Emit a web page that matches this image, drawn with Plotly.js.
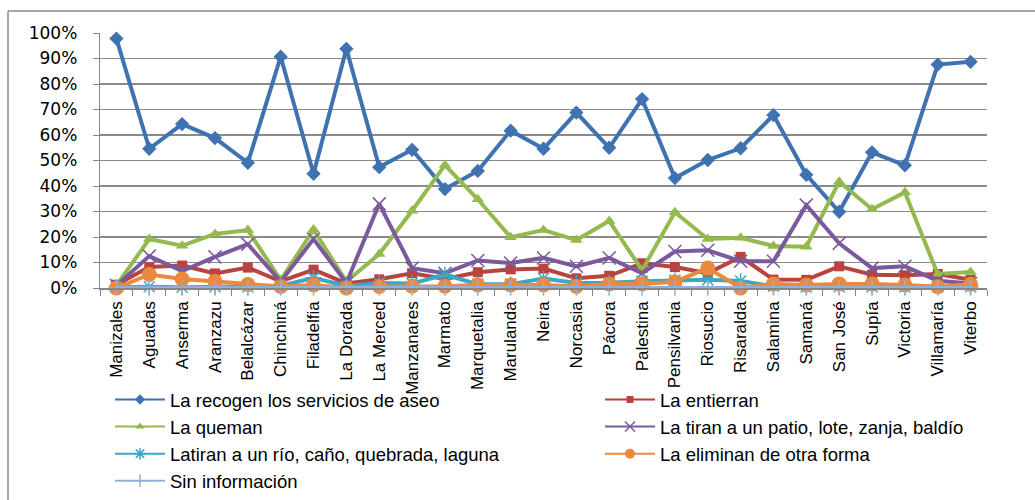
<!DOCTYPE html>
<html>
<head>
<meta charset="utf-8">
<script src="https://cdn.plot.ly/plotly-3.0.1.min.js"></script>
<style>
html,body{margin:0;padding:0;background:#fff;}
#chart{width:1035px;height:500px;}
</style>
</head>
<body>
<div id="chart"></div>
<script>
var categories = ["Manizales","Aguadas","Anserma","Aranzazu","Belalcázar","Chinchiná","Filadelfia","La Dorada","La Merced","Manzanares","Marmato","Marquetalia","Marulanda","Neira","Norcasia","Pácora","Palestina","Pensilvania","Riosucio","Risaralda","Salamina","Samaná","San José","Supía","Victoria","Villamaría","Viterbo"];

var seriesNames = ["La recogen los servicios de aseo","La entierran","La queman","La tiran a un patio, lote, zanja, baldío","Latiran a un río, caño, quebrada, laguna","La eliminan de otra forma","Sin información"];

var recogen   = [97.8,54.6,64.3,58.8,49.1,90.7,44.8,93.8,47.4,54.2,38.8,45.9,61.7,54.6,68.8,55.0,74.1,43.1,50.2,54.8,67.8,44.4,29.9,53.2,48.1,87.6,88.7];
var entierran = [1.3,8.2,8.8,5.7,8.0,2.6,7.2,1.8,3.4,5.8,3.5,6.2,7.3,7.6,3.8,4.8,9.7,8.2,5.8,12.2,3.3,3.2,8.5,5.2,5.0,5.5,3.2];
var queman    = [1.0,19.2,16.6,21.2,22.7,3.1,22.9,2.5,13.3,30.3,48.2,34.8,19.9,22.7,18.8,26.3,7.0,29.7,19.2,19.7,16.5,16.2,41.7,30.9,37.5,5.5,6.3];
var patio     = [1.0,12.5,6.6,12.2,17.2,2.5,19.2,2.0,33.0,7.8,5.8,10.8,9.8,11.8,8.5,11.8,5.8,14.3,14.8,10.5,10.5,32.5,17.5,7.8,8.5,2.8,1.8];
var rio       = [0.3,0.5,0.3,0.5,0.5,0.8,4.0,0.8,2.0,1.8,5.2,1.5,1.5,3.7,2.0,2.1,2.6,3.0,3.2,2.7,0.7,0.4,0.5,0.5,0.5,0.5,0.5];
var otra      = [0.0,5.3,3.5,2.6,1.4,0.6,1.2,0.0,0.6,0.7,0.7,1.2,1.2,1.2,0.6,1.6,1.6,2.4,7.8,0.0,1.6,1.2,1.6,1.6,1.2,0.5,1.5];
var sinInfo   = [0,0,0,0,0,0,0,0,0,0,0,0,0,0,0,0,0,0,0,0,0,0,0,0,0,0,0];

var seriesValues = [recogen, entierran, queman, patio, rio, otra, sinInfo];
var colors = ["#3f72b0","#b8433f","#93b94f","#7a5a9c","#3ea8c2","#eb8a3c","#93b0da"];
var symbols = ['diamond','square','triangle-up','x-thin-open','asterisk-open','circle','cross-thin-open'];
var sizes = [11, 10, 11, 13, 13, 15, 11];
var legendSizes = [8, 7, 8, 10, 10, 10, 9];
var outline = [null, null, null, '#9a83bd', '#6fc4dc', null, '#93b0da'];
var legendOf = ['legend','legend2','legend','legend2','legend','legend2','legend'];

var W = 1035, H = 500, L = 100, R = 48, T = 33, B = 212;
var pw = W - L - R, ph = H - T - B;
function px2x(p){ return (p - L) / pw; }
function px2y(p){ return (H - B - p) / ph; }

function markerFor(i, size){
  var m = {symbol: symbols[i], size: size, color: colors[i]};
  if (outline[i]) m.line = {color: outline[i], width: 1.5};
  return m;
}

var data = [];
// drawn series
seriesValues.forEach(function(vals, i){
  data.push({
    type: 'scatter', mode: 'lines+markers',
    x: categories, y: vals, name: seriesNames[i],
    line: {color: colors[i], width: 4},
    marker: markerFor(i, sizes[i]),
    cliponaxis: false, showlegend: false
  });
});
// legend entries (thin keys, as in the original)
seriesValues.forEach(function(vals, i){
  data.push({
    type: 'scatter', mode: 'lines+markers',
    x: categories, y: vals.map(function(){ return null; }), name: seriesNames[i],
    line: {color: colors[i], width: 2},
    marker: markerFor(i, legendSizes[i]),
    showlegend: true, legend: legendOf[i]
  });
});

var legFont = {family: 'Liberation Sans, Arial, sans-serif', size: 18.5, color: '#000'};

var layout = {
  width: W, height: H,
  margin: {l: L, r: R, t: T, b: B, pad: 0, autoexpand: false},
  paper_bgcolor: '#fff', plot_bgcolor: '#fff',
  showlegend: true,
  font: {family: 'Liberation Sans, Arial, sans-serif', color: '#000'},
  xaxis: {
    type: 'category',
    range: [-0.5, categories.length - 0.5],
    showgrid: false, zeroline: false, automargin: false,
    showline: true, linecolor: '#868686', linewidth: 1.5,
    ticks: 'outside', tickson: 'boundaries', ticklen: 6, tickcolor: '#868686',
    tickangle: -90,
    ticklabelstandoff: 5,
    tickfont: {family: 'Liberation Sans, Arial, sans-serif', size: 17, color: '#000'},
    fixedrange: true
  },
  yaxis: {
    range: [0, 100], dtick: 10, tick0: 0,
    ticksuffix: '%', automargin: false,
    showgrid: true, gridcolor: '#8a8a8a', gridwidth: 1.3,
    zeroline: false,
    showline: true, linecolor: '#868686', linewidth: 1.3,
    ticks: 'outside', ticklen: 6, tickcolor: '#868686',
    ticklabelstandoff: 12,
    tickfont: {family: 'DejaVu Sans, sans-serif', size: 17, color: '#000'},
    fixedrange: true
  },
  legend: {
    x: px2x(110), y: px2y(381), xanchor: 'left', yanchor: 'top',
    orientation: 'v', bgcolor: 'rgba(0,0,0,0)', borderwidth: 0,
    font: legFont, tracegroupgap: 0, itemwidth: 50
  },
  legend2: {
    x: px2x(600), y: px2y(381), xanchor: 'left', yanchor: 'top',
    orientation: 'v', bgcolor: 'rgba(0,0,0,0)', borderwidth: 0,
    font: legFont, tracegroupgap: 0, itemwidth: 50
  },
  shapes: [
    {type: 'line', xref: 'paper', yref: 'paper', x0: px2x(8), x1: px2x(8), y0: px2y(11), y1: px2y(500), line: {color: '#8a8a8a', width: 1.5}},
    {type: 'line', xref: 'paper', yref: 'paper', x0: px2x(8), x1: px2x(1035), y0: px2y(11), y1: px2y(11), line: {color: '#8a8a8a', width: 1.5}}
  ]
};

Plotly.newPlot('chart', data, layout, {displayModeBar: false, staticPlot: true});
</script>
</body>
</html>
